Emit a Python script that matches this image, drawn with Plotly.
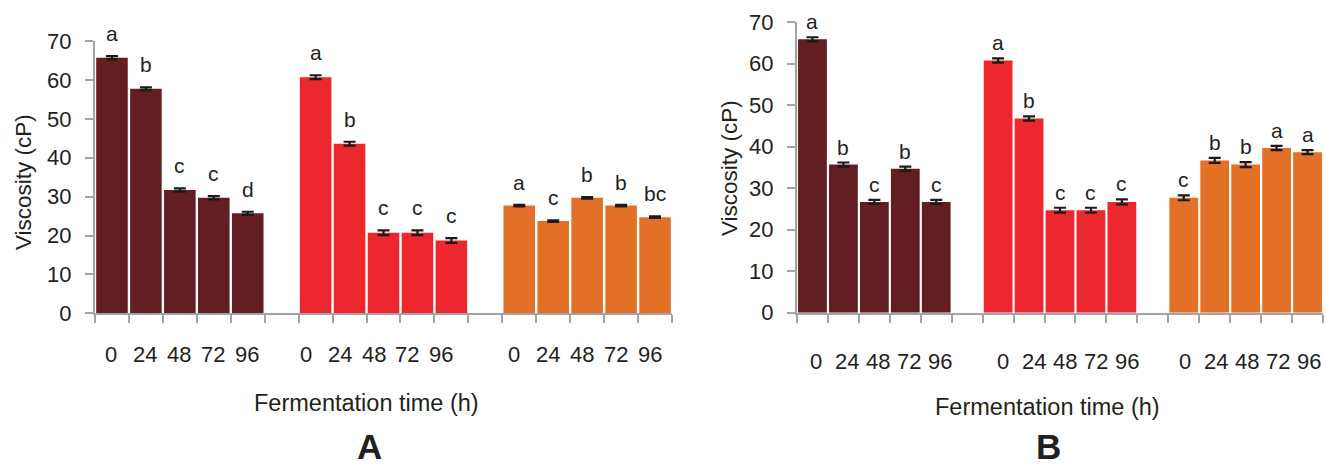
import plotly.graph_objects as go

# ---------------- data ----------------
times = ["0", "24", "48", "72", "96"]
colors = ["#621E20", "#EC282E", "#E27026"]

A_dark = [65.7, 57.7, 31.7, 29.7, 25.7]
A_red = [60.7, 43.6, 20.7, 20.7, 18.7]
A_orange = [27.7, 23.7, 29.7, 27.7, 24.7]
A_dark_err = [0.4, 0.4, 0.4, 0.4, 0.4]
A_red_err = [0.5, 0.5, 0.6, 0.6, 0.6]
A_orange_err = [0.2, 0.2, 0.2, 0.2, 0.2]
A_dark_let = ["a", "b", "c", "c", "d"]
A_red_let = ["a", "b", "c", "c", "c"]
A_orange_let = ["a", "c", "b", "b", "bc"]

B_dark = [65.9, 35.7, 26.7, 34.7, 26.7]
B_red = [60.8, 46.8, 24.7, 24.7, 26.7]
B_orange = [27.7, 36.7, 35.7, 39.7, 38.7]
B_dark_err = [0.5, 0.5, 0.5, 0.5, 0.5]
B_red_err = [0.5, 0.5, 0.6, 0.6, 0.6]
B_orange_err = [0.6, 0.6, 0.6, 0.5, 0.5]
B_dark_let = ["a", "b", "c", "b", "c"]
B_red_let = ["a", "b", "c", "c", "c"]
B_orange_let = ["c", "b", "b", "a", "a"]

yticks = [0, 10, 20, 30, 40, 50, 60, 70]

FONT = "Liberation Sans, Arial, sans-serif"
TXT = "#231F20"
AXC = "#A3A3A3"

panels = {
    "A": dict(vals=[A_dark, A_red, A_orange], errs=[A_dark_err, A_red_err, A_orange_err],
              lets=[A_dark_let, A_red_let, A_orange_let]),
    "B": dict(vals=[B_dark, B_red, B_orange], errs=[B_dark_err, B_red_err, B_orange_err],
              lets=[B_dark_let, B_red_let, B_orange_let]),
}

fig = go.Figure()
annotations = []

W, H = 1326, 467
geo = {
    "A": dict(x0=95, x1=672, ybot=313.3, ytop=41, xa="x", ya="y", letshift=9, labshift=-41,
              grpshift=[-1, -10, -5],
              xtitle=(366, 403), ytitle=(23, 182), tag=369),
    "B": dict(x0=797, x1=1323, ybot=312.7, ytop=22.3, xa="x2", ya="y2", letshift=2, labshift=-49,
              grpshift=[4, 5, 1],
              xtitle=(1047, 407), ytitle=(729, 168), tag=1048),
}

for name, p in panels.items():
    g = geo[name]
    for gi in range(3):
        xs = [gi * 6 + i for i in range(5)]
        fig.add_trace(go.Bar(
            x=xs, y=p["vals"][gi], width=0.93,
            marker=dict(color=colors[gi], line=dict(width=0)),
            error_y=dict(type="data", array=p["errs"][gi], color="#1A1A1A", thickness=2.2, width=6),
            xaxis=g["xa"], yaxis=g["ya"], showlegend=False, hoverinfo="skip",
        ))
        for i in range(5):
            annotations.append(dict(
                x=xs[i], y=p["vals"][gi][i] + p["errs"][gi][i], xref=g["xa"], yref=g["ya"],
                text=p["lets"][gi][i], showarrow=False, yanchor="bottom", yshift=g["letshift"],
                font=dict(family=FONT, size=21, color=TXT),
            ))
            annotations.append(dict(
                x=xs[i], y=0, xref=g["xa"], yref=g["ya"], text=times[i], showarrow=False,
                yanchor="middle", yshift=g["labshift"], xshift=g["grpshift"][gi],
                font=dict(family=FONT, size=22, color=TXT),
            ))
    annotations.append(dict(
        x=g["xtitle"][0] / W, y=1 - g["xtitle"][1] / H, xref="paper", yref="paper",
        text="Fermentation time (h)", showarrow=False, xanchor="center", yanchor="middle",
        font=dict(family=FONT, size=23.5, color=TXT),
    ))
    annotations.append(dict(
        x=g["ytitle"][0] / W, y=1 - g["ytitle"][1] / H, xref="paper", yref="paper",
        text="Viscosity (cP)", showarrow=False, textangle=-90, xanchor="center", yanchor="middle",
        font=dict(family=FONT, size=22.5, color=TXT),
    ))
    annotations.append(dict(
        x=g["tag"] / W, y=0, xref="paper", yref="paper",
        text="<b>" + name + "</b>", showarrow=False, xanchor="center", yanchor="bottom",
        borderpad=0, font=dict(family=FONT, size=35, color=TXT),
    ))

def xaxis(g):
    return dict(
        domain=[g["x0"] / W, g["x1"] / W], range=[-0.5, 16.5],
        tickvals=[v - 0.5 for v in range(18)], ticktext=[""] * 18,
        ticks="outside", ticklen=8, tickwidth=2, tickcolor=AXC,
        showline=True, linecolor=AXC, linewidth=2, showgrid=False, zeroline=False,
        automargin=False, fixedrange=True,
    )

def yaxis(g, anchor):
    return dict(
        domain=[1 - g["ybot"] / H, 1 - g["ytop"] / H], range=[0, 70],
        tickvals=yticks, ticks="outside", ticklen=8, tickwidth=2, tickcolor=AXC,
        showline=True, linecolor=AXC, linewidth=2, showgrid=False, zeroline=False,
        tickfont=dict(family=FONT, size=22, color=TXT), ticklabelstandoff=9,
        automargin=False, anchor=anchor, fixedrange=True,
    )

fig.update_layout(
    width=W, height=H, margin=dict(l=0, r=0, t=0, b=0),
    paper_bgcolor="white", plot_bgcolor="white", template="none",
    barmode="overlay", showlegend=False,
    xaxis=dict(**xaxis(geo["A"]), anchor="y"),
    yaxis=yaxis(geo["A"], "x"),
    xaxis2=dict(**xaxis(geo["B"]), anchor="y2"),
    yaxis2=yaxis(geo["B"], "x2"),
    annotations=annotations,
    font=dict(family=FONT, color=TXT),
)

fig.write_html("out.html", config={"displayModeBar": False})
